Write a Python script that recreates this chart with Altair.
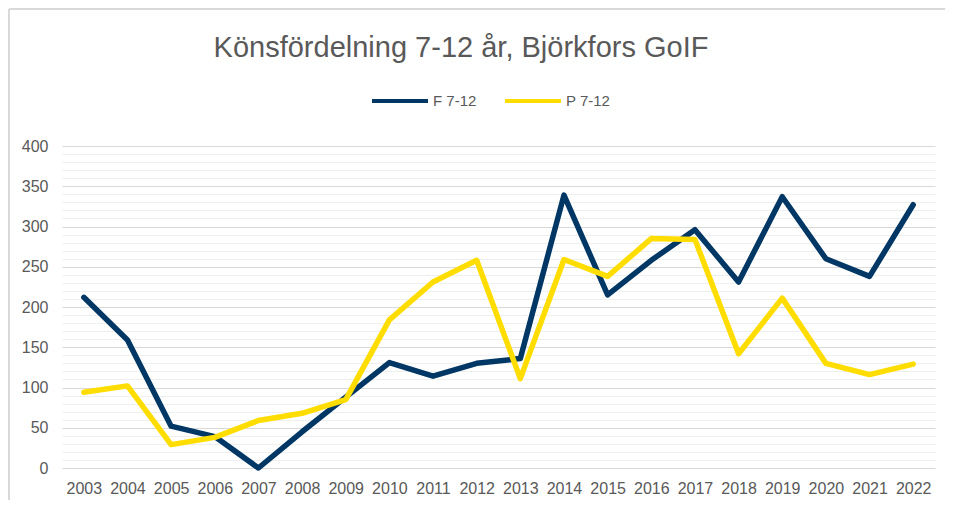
import altair as alt
import pandas as pd

title_text = "Könsfördelning 7-12 år, Björkfors GoIF"
years = [str(y) for y in range(2003, 2023)]
f_values = [212, 159, 52, 39, 0, 45, 88, 131, 114, 130, 136, 339, 215, 258, 296, 231, 337, 260, 238, 327]
p_values = [94, 102, 29, 38, 59, 68, 85, 184, 231, 258, 111, 259, 238, 285, 284, 142, 211, 130, 116, 129]
series_names = ["F 7-12", "P 7-12"]
series_colors = ["#003764", "#FFDD00"]

rows = []
for name, vals in zip(series_names, [f_values, p_values]):
    for y, v in zip(years, vals):
        rows.append({"year": y, "value": v, "series": name})
df = pd.DataFrame(rows)

FONT = "Liberation Sans"
GREY = "#595959"

lines = alt.Chart(df).mark_line(
    strokeWidth=5.5, strokeCap="round", strokeJoin="round"
).encode(
    x=alt.X("year:O", sort=years,
            scale=alt.Scale(type="point", padding=0.5),
            axis=alt.Axis(title=None, labelAngle=0, ticks=False, domain=False, grid=False,
                          labelPadding=12, labelFontSize=16, labelColor=GREY, labelFont=FONT)),
    y=alt.Y("value:Q",
            scale=alt.Scale(domain=[0, 400], nice=False, zero=True),
            axis=alt.Axis(title=None, values=list(range(0, 401, 10)), ticks=False, domain=False,
                          labelExpr="datum.value % 50 === 0 ? datum.label : ''",
                          labelPadding=14, labelFontSize=16, labelColor=GREY, labelFont=FONT,
                          grid=True,
                          gridColor={"condition": {"test": "datum.value % 50 === 0", "value": "#D9D9D9"},
                                     "value": "#EFEFEF"},
                          gridWidth=1.2)),
    color=alt.Color("series:N",
                    scale=alt.Scale(domain=series_names, range=series_colors),
                    legend=alt.Legend(title=None, orient="none", direction="horizontal",
                                      legendX=308, legendY=-75,
                                      symbolType="stroke", symbolSize=3136, symbolStrokeWidth=4,
                                      labelFontSize=15, labelColor=GREY, labelFont=FONT,
                                      labelOffset=3, columnPadding=20)),
)

frame_data = alt.Data(values=[{"a": 1}])
border_left = alt.Chart(frame_data).mark_rule(
    stroke="#D9D9D9", strokeWidth=2, clip=False
).encode(x=alt.value(-53), y=alt.value(-137), y2=alt.value(1000))
border_top = alt.Chart(frame_data).mark_rule(
    stroke="#D9D9D9", strokeWidth=2, clip=False
).encode(x=alt.value(-53), x2=alt.value(1000), y=alt.value(-137))

title = alt.Chart(alt.Data(values=[{"t": title_text}])).mark_text(
    font=FONT, fontSize=29, color=GREY, align="center", baseline="alphabetic", clip=False
).encode(
    text="t:N", x=alt.value(399), y=alt.value(-89.5)
)

chart = alt.layer(border_left, border_top, title, lines).properties(
    width=873, height=322,
    autosize=alt.AutoSizeParams(type="none"),
    padding={"left": 54, "top": 138, "right": 10, "bottom": 32},
).configure(background="white").configure_view(stroke=None)

chart.save("out.html", embed_options={"renderer": "svg", "actions": False})
